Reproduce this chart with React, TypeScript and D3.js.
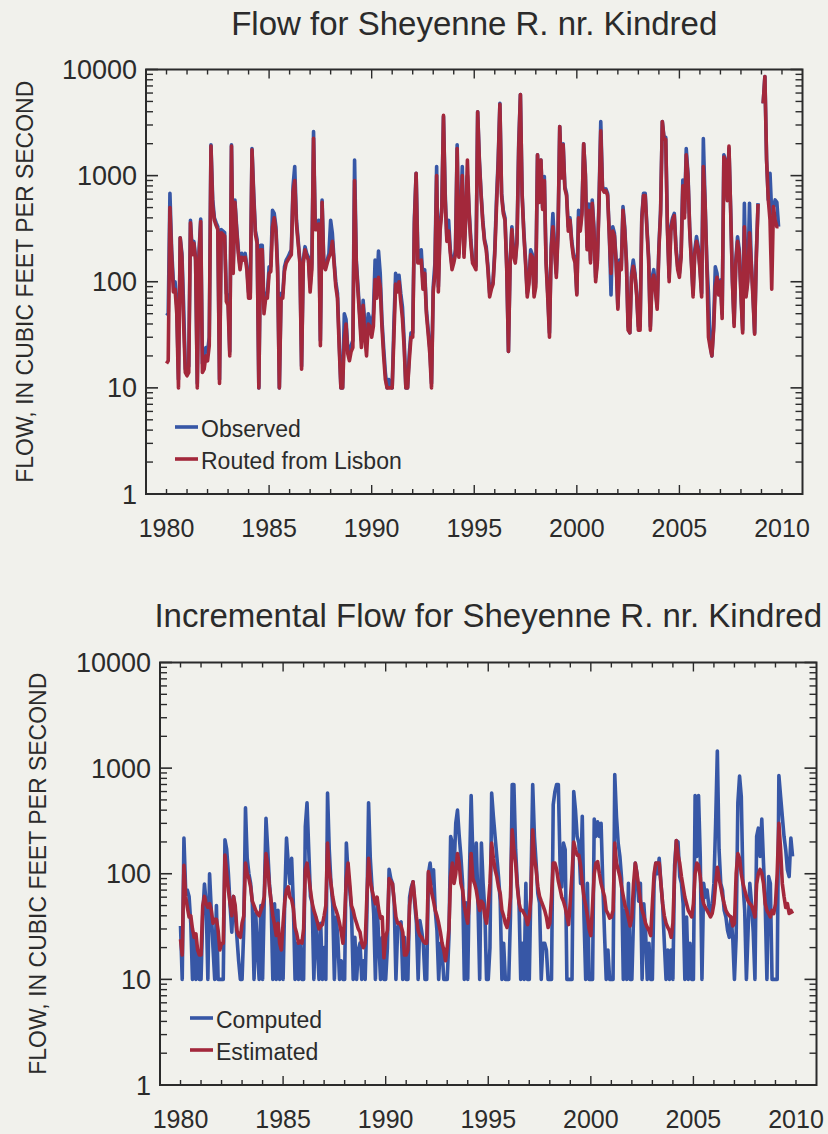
import * as d3 from "d3";

// monthly flow, cfs (rows = years 1980..2009, Jan..Dec)
const START_YEAR = 1980;
const yearLabels = [1980, 1985, 1990, 1995, 2000, 2005, 2010];
const decadeTicks = [1, 10, 100, 1000, 10000];

const observed: (number | null)[][] = [
  [48, 50, 680, 200, 100, 100, 60, 12, 260, 185, 60, 15],
  [15, 16, 380, 200, 240, 170, 11, 190, 390, 17, 18, 24],
  [22, 30, 1950, 600, 400, 360, 330, 12, 310, 300, 290, 78],
  [70, 22, 1950, 140, 590, 330, 200, 140, 185, 170, 185, 140],
  [80, 78, 1800, 680, 300, 250, 10, 220, 220, 58, 78, 78],
  [138, 140, 470, 440, 330, 138, 10, 78, 78, 138, 160, 170],
  [185, 200, 790, 1220, 380, 246, 160, 16, 160, 214, 185, 170],
  [90, 150, 2600, 330, 330, 380, 28, 590, 150, 140, 160, 185],
  [380, 286, 160, 100, 78, 28, 10, 10, 50, 44, 24, 20],
  [25, 28, 1400, 160, 90, 50, 28, 67, 40, 28, 50, 44],
  [40, 50, 160, 90, 195, 120, 44, 24, 14, 10, 12, 11],
  [10, 40, 120, 100, 115, 78, 58, 28, 10, 10, 21, 33],
  [33, 400, 1050, 190, 160, 200, 100, 130, 55, 36, 24, 11],
  [90, 150, 1220, 90, 330, 500, 3600, 680, 250, 380, 200, 140],
  [160, 200, 1950, 185, 400, 1220, 185, 400, 1000, 470, 250, 160],
  [150, 140, 4000, 1400, 680, 380, 250, 214, 140, 78, 90, 100],
  [200, 590, 1400, 4800, 680, 470, 400, 138, 22, 160, 330, 185],
  [160, 250, 2000, 5800, 680, 300, 160, 78, 104, 200, 180, 78],
  [100, 1570, 600, 1400, 500, 980, 160, 78, 33, 214, 440, 214],
  [120, 300, 2900, 1000, 2000, 790, 680, 330, 400, 246, 185, 160],
  [78, 470, 330, 475, 2000, 1050, 214, 540, 160, 590, 330, 110],
  [160, 600, 3240, 790, 720, 750, 680, 286, 75, 330, 286, 160],
  [58, 160, 138, 510, 330, 160, 38, 33, 120, 160, 120, 78],
  [38, 38, 410, 680, 680, 330, 170, 38, 110, 130, 90, 58],
  [214, 475, 3240, 2300, 2300, 330, 110, 330, 400, 440, 214, 138],
  [120, 185, 910, 440, 1800, 1050, 330, 160, 78, 200, 266, 214],
  [138, 78, 2240, 590, 160, 78, 26, 20, 38, 138, 120, 78],
  [104, 50, 1570, 1400, 600, 1800, 475, 104, 41, 160, 265, 200],
  [78, 35, 550, 78, 110, 550, 160, 78, 33, 185, 550, null],
  [null, 4800, 8600, 1400, 590, 1050, 440, 510, 590, 560, 330, null],
];

const routed: (number | null)[][] = [
  [17, 18, 500, 180, 80, 85, 50, 10, 260, 170, 40, 14],
  [13, 14, 360, 180, 230, 160, 10, 170, 370, 14, 15, 20],
  [18, 25, 1900, 520, 380, 340, 310, 11, 290, 280, 270, 65],
  [60, 20, 1900, 120, 560, 310, 185, 130, 170, 160, 170, 130],
  [70, 70, 1750, 620, 280, 230, 10, 200, 200, 50, 70, 70],
  [120, 125, 330, 400, 300, 120, 10, 70, 70, 125, 150, 160],
  [170, 180, 700, 900, 350, 230, 150, 15, 150, 200, 175, 160],
  [80, 130, 2250, 310, 310, 350, 25, 560, 140, 130, 150, 170],
  [185, 240, 150, 90, 70, 24, 10, 10, 28, 40, 21, 18],
  [22, 24, 900, 150, 80, 45, 24, 60, 30, 20, 40, 38],
  [30, 38, 105, 70, 110, 90, 38, 20, 12, 10, 10, 10],
  [10, 30, 95, 80, 100, 65, 45, 24, 10, 10, 18, 30],
  [30, 350, 1050, 150, 150, 160, 85, 120, 50, 33, 21, 10],
  [80, 120, 1000, 80, 300, 450, 3700, 600, 240, 300, 185, 130],
  [150, 180, 1800, 170, 350, 1000, 170, 380, 1400, 440, 230, 150],
  [140, 130, 4000, 1350, 650, 360, 240, 200, 130, 72, 85, 95],
  [180, 500, 1300, 4700, 640, 440, 380, 130, 22, 150, 310, 175],
  [150, 230, 1800, 5800, 650, 280, 150, 72, 95, 180, 170, 72],
  [90, 1570, 560, 1400, 480, 900, 150, 70, 30, 200, 330, 200],
  [110, 280, 2900, 950, 1950, 750, 650, 300, 380, 230, 170, 150],
  [75, 400, 300, 430, 2000, 1000, 200, 470, 150, 550, 300, 100],
  [150, 550, 2650, 750, 700, 720, 650, 270, 120, 300, 270, 150],
  [55, 150, 130, 470, 310, 150, 35, 33, 110, 140, 115, 75],
  [35, 35, 380, 650, 650, 310, 160, 35, 100, 115, 80, 55],
  [200, 440, 3240, 2200, 2200, 310, 100, 300, 380, 420, 200, 130],
  [110, 170, 800, 400, 1570, 1000, 310, 150, 72, 185, 240, 200],
  [130, 72, 1220, 560, 150, 30, 24, 20, 35, 90, 110, 75],
  [100, 45, 1500, 1350, 580, 1900, 450, 100, 38, 150, 240, 185],
  [75, 33, 330, 72, 100, 290, 150, 72, 32, 170, 540, null],
  [null, 4800, 8600, 1400, 590, 380, 85, 510, 380, 330, 330, null],
];

const computed: (number | null)[][] = [
  [32, 10, 218, 70, 70, 61, 34, 10, 25, 10, 19, 10],
  [10, 40, 80, 53, 10, 100, 45, 20, 10, 50, 10, 10],
  [10, 10, 210, 170, 100, 50, 28, 61, 45, 25, 15, 10],
  [10, 30, 420, 140, 100, 81, 53, 10, 42, 19, 10, 50],
  [10, 60, 335, 170, 81, 53, 10, 52, 10, 45, 10, 19],
  [10, 60, 218, 126, 81, 140, 52, 10, 22, 10, 21, 10],
  [10, 280, 470, 169, 61, 53, 10, 39, 22, 10, 34, 10],
  [20, 10, 580, 169, 81, 52, 10, 39, 25, 10, 15, 10],
  [10, 195, 100, 70, 45, 10, 25, 10, 19, 22, 10, 15],
  [10, 40, 470, 140, 75, 42, 10, 52, 22, 10, 25, 10],
  [10, 20, 110, 90, 81, 53, 10, 30, 34, 35, 10, 25],
  [10, 10, 60, 75, 84, 52, 34, 10, 36, 29, 22, 10],
  [10, 100, 126, 81, 109, 45, 29, 10, 22, 19, 10, 10],
  [10, 25, 225, 195, 109, 300, 400, 230, 146, 81, 10, 53],
  [10, 100, 550, 146, 81, 195, 52, 10, 195, 81, 45, 10],
  [10, 20, 580, 350, 226, 146, 94, 55, 10, 22, 10, 10],
  [10, 40, 700, 700, 169, 81, 53, 10, 22, 10, 81, 10],
  [10, 80, 700, 226, 126, 65, 53, 10, 22, 22, 19, 10],
  [10, 10, 450, 600, 700, 700, 126, 75, 195, 169, 10, 10],
  [10, 10, 600, 405, 226, 195, 81, 350, 39, 10, 81, 10],
  [10, 10, 330, 226, 310, 226, 300, 81, 27, 10, 19, 10],
  [10, 10, 870, 350, 195, 146, 90, 10, 45, 10, 81, 10],
  [10, 40, 126, 100, 55, 81, 10, 52, 29, 10, 22, 10],
  [10, 81, 126, 100, 140, 81, 52, 22, 10, 19, 10, 19],
  [10, 120, 206, 200, 94, 81, 52, 10, 39, 10, 22, 10],
  [10, 550, 146, 550, 146, 10, 81, 60, 70, 50, 40, 52],
  [81, 300, 1450, 169, 81, 70, 45, 39, 29, 25, 39, 25],
  [10, 25, 470, 840, 540, 81, 45, 10, 29, 81, 52, 28],
  [10, 226, 270, 146, 330, 126, 52, 10, 94, 81, 10, 10],
  [10, 10, 850, 540, 350, 226, 169, 109, 94, 218, 146, null],
];

const estimated: (number | null)[][] = [
  [24, 17, 120, 61, 48, 39, 40, 30, 25, 27, 19, 17],
  [17, 50, 61, 52, 48, 52, 45, 34, 37, 37, 29, 19],
  [22, 22, 150, 100, 70, 52, 40, 61, 50, 29, 26, 25],
  [34, 40, 126, 100, 90, 75, 55, 50, 45, 42, 40, 45],
  [50, 61, 155, 120, 75, 55, 40, 33, 26, 34, 22, 19],
  [34, 55, 70, 75, 60, 57, 47, 31, 27, 22, 23, 22],
  [30, 109, 126, 94, 70, 53, 45, 40, 35, 30, 32, 33],
  [40, 50, 195, 109, 81, 61, 50, 45, 40, 34, 28, 22],
  [39, 90, 126, 81, 50, 45, 38, 34, 30, 28, 22, 20],
  [22, 60, 140, 85, 70, 60, 52, 60, 45, 38, 39, 16],
  [25, 29, 90, 85, 80, 55, 39, 34, 34, 32, 28, 17],
  [17, 19, 50, 70, 84, 58, 39, 29, 26, 25, 23, 22],
  [22, 105, 85, 65, 55, 45, 40, 34, 28, 22, 19, 15],
  [20, 30, 94, 126, 81, 100, 155, 126, 81, 70, 50, 40],
  [34, 60, 155, 90, 81, 70, 55, 45, 55, 52, 40, 34],
  [50, 81, 195, 140, 109, 94, 75, 65, 45, 40, 34, 31],
  [39, 60, 261, 170, 126, 75, 53, 45, 45, 42, 39, 33],
  [39, 60, 261, 140, 110, 75, 61, 55, 50, 45, 39, 31],
  [34, 60, 126, 126, 110, 85, 72, 60, 55, 48, 40, 33],
  [55, 100, 200, 169, 150, 150, 120, 81, 60, 50, 40, 30],
  [26, 50, 100, 126, 130, 100, 81, 70, 61, 45, 42, 38],
  [39, 45, 195, 126, 109, 94, 75, 61, 50, 45, 38, 32],
  [39, 81, 126, 100, 75, 55, 45, 40, 34, 31, 29, 26],
  [52, 100, 126, 126, 126, 81, 52, 40, 34, 31, 29, 25],
  [34, 100, 206, 150, 126, 94, 75, 60, 52, 45, 42, 39],
  [52, 100, 126, 120, 94, 61, 52, 48, 45, 42, 39, 42],
  [52, 81, 115, 90, 75, 61, 52, 45, 42, 40, 39, 32],
  [34, 100, 155, 140, 100, 81, 70, 61, 55, 52, 50, 45],
  [39, 80, 100, 110, 100, 81, 52, 45, 42, 39, 45, 42],
  [52, 100, 300, 169, 81, 61, 48, 52, 42, 45, 42, null],
];

const BLUE = "#3757a6";
const RED = "#a3283b";
const INK = "#2b2b2b";
const FONT = "'Liberation Sans', Arial, Helvetica, sans-serif";

type Pt = { t: number; v: number | null };

function toPoints(rows: (number | null)[][]): Pt[] {
  return rows.flatMap((row, i) => row.map((v, m) => ({ t: START_YEAR + i + m / 12, v })));
}

interface Box { left: number; right: number; top: number; bottom: number }

interface PanelProps {
  title: string;
  titleY: number;
  box: Box;
  axisTitleX: number;
  legendY: number;
  legendX: number;
  series: { name: string; color: string; rows: (number | null)[][] }[];
}

function Panel({ title, titleY, box, axisTitleX, legendY, legendX, series }: PanelProps) {
  const x = d3.scaleLinear().domain([1979, 2011]).range([box.left, box.right]);
  const y = d3.scaleLog().domain([1, 10000]).range([box.bottom, box.top]);

  const line = d3
    .line<Pt>()
    .defined((d) => d.v != null)
    .x((d) => x(d.t))
    .y((d) => y(d.v as number));

  const minorY: number[] = [];
  decadeTicks.slice(0, -1).forEach((d) => {
    for (let k = 2; k <= 9; k++) minorY.push(d * k);
  });
  const yearTicks = d3.range(1980, 2011);
  const midY = (box.top + box.bottom) / 2;

  return (
    <g>
      <text
        x={(box.left + box.right) / 2}
        y={titleY}
        textAnchor="middle"
        fontSize={33}
        fontFamily={FONT}
        fill={INK}
      >
        {title}
      </text>
      <text
        transform={`translate(${axisTitleX},${midY}) rotate(-90)`}
        textAnchor="middle"
        fontSize={23}
        fontFamily={FONT}
        fill={INK}
      >
        FLOW, IN CUBIC FEET PER SECOND
      </text>

      {/* data */}
      {series.map((s) => (
        <path
          key={s.name}
          d={line(toPoints(s.rows)) || ""}
          fill="none"
          stroke={s.color}
          strokeWidth={3.6}
          strokeLinejoin="round"
        />
      ))}

      {/* y ticks, both sides, inside */}
      {decadeTicks.map((v) => (
        <g key={"M" + v}>
          <line x1={box.left} x2={box.left + 12} y1={y(v)} y2={y(v)} stroke={INK} strokeWidth={1.6} />
          <line x1={box.right} x2={box.right - 12} y1={y(v)} y2={y(v)} stroke={INK} strokeWidth={1.6} />
          <text
            x={box.left - 9}
            y={y(v) + 9.5}
            textAnchor="end"
            fontSize={27}
            fontFamily={FONT}
            fill={INK}
          >
            {v}
          </text>
        </g>
      ))}
      {minorY.map((v) => (
        <g key={"m" + v}>
          <line x1={box.left} x2={box.left + 7} y1={y(v)} y2={y(v)} stroke={INK} strokeWidth={1.4} />
          <line x1={box.right} x2={box.right - 7} y1={y(v)} y2={y(v)} stroke={INK} strokeWidth={1.4} />
        </g>
      ))}

      {/* x ticks, top and bottom */}
      {yearTicks.map((yr) => {
        const len = yr % 5 === 0 && yr !== 1980 && yr !== 2010 ? 9 : 5;
        return (
          <g key={"x" + yr}>
            <line x1={x(yr)} x2={x(yr)} y1={box.bottom} y2={box.bottom - len} stroke={INK} strokeWidth={1.4} />
            <line x1={x(yr)} x2={x(yr)} y1={box.top} y2={box.top + len} stroke={INK} strokeWidth={1.4} />
          </g>
        );
      })}
      {yearLabels.map((yr) => (
        <text
          key={"xl" + yr}
          x={x(yr)}
          y={box.bottom + 43}
          textAnchor="middle"
          fontSize={25}
          fontFamily={FONT}
          fill={INK}
        >
          {yr}
        </text>
      ))}

      <rect
        x={box.left}
        y={box.top}
        width={box.right - box.left}
        height={box.bottom - box.top}
        fill="none"
        stroke={INK}
        strokeWidth={2}
      />

      {/* legend */}
      {series.map((s, i) => (
        <g key={"lg" + s.name} transform={`translate(${legendX},${legendY + i * 32})`}>
          <line x1={0} x2={23} y1={-10} y2={-10} stroke={s.color} strokeWidth={3.6} />
          <text x={26} y={0} fontSize={23} fontFamily={FONT} fill={INK}>
            {s.name}
          </text>
        </g>
      ))}
    </g>
  );
}

export default function App() {
  return (
    <svg
      width={828}
      height={1134}
      style={{ position: "absolute", left: 0, top: 0 }}
    >
      <rect width={828} height={1134} fill="#f1f1ec" />
      <Panel
        title="Flow for Sheyenne R. nr. Kindred"
        titleY={35}
        box={{ left: 146, right: 802.5, top: 69.5, bottom: 494 }}
        axisTitleX={33}
        legendX={175}
        legendY={437}
        series={[
          { name: "Observed", color: BLUE, rows: observed },
          { name: "Routed from Lisbon", color: RED, rows: routed },
        ]}
      />
      <Panel
        title="Incremental Flow for Sheyenne R. nr. Kindred"
        titleY={627}
        box={{ left: 160, right: 816.5, top: 662.5, bottom: 1085 }}
        axisTitleX={46}
        legendX={190}
        legendY={1028}
        series={[
          { name: "Computed", color: BLUE, rows: computed },
          { name: "Estimated", color: RED, rows: estimated },
        ]}
      />
    </svg>
  );
}
